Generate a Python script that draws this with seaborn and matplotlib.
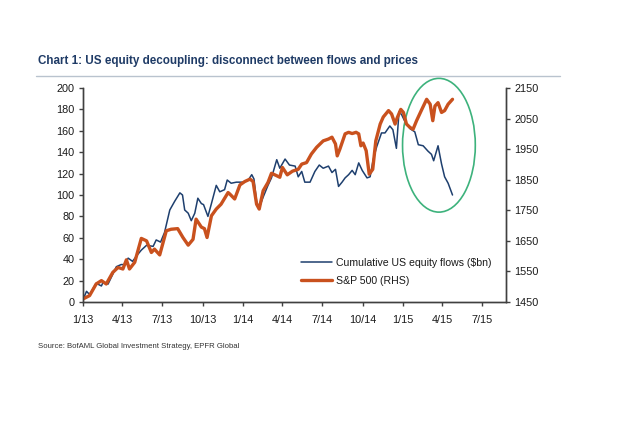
import matplotlib
matplotlib.use("Agg")
import matplotlib.pyplot as plt
import matplotlib.dates as mdates
from matplotlib.patches import Ellipse
from matplotlib.lines import Line2D
import pandas as pd
import seaborn as sns

# ---------------- data ----------------
flow_dates = ["2013-01-01", "2013-01-09", "2013-01-16", "2013-01-31", "2013-02-12", "2013-02-16",
              "2013-02-27", "2013-03-10", "2013-03-18", "2013-03-29", "2013-04-06", "2013-04-14",
              "2013-04-24", "2013-05-03", "2013-05-14", "2013-05-26", "2013-06-10", "2013-06-17",
              "2013-06-27", "2013-07-06", "2013-07-18", "2013-07-29", "2013-08-10", "2013-08-16",
              "2013-08-21", "2013-08-29", "2013-09-05", "2013-09-13", "2013-09-20", "2013-09-28",
              "2013-10-03", "2013-10-13", "2013-10-21", "2013-11-01", "2013-11-09", "2013-11-20",
              "2013-11-26", "2013-12-05", "2013-12-17", "2014-01-02", "2014-01-13", "2014-01-21",
              "2014-01-26", "2014-02-01", "2014-02-07", "2014-02-16", "2014-02-27", "2014-03-07",
              "2014-03-19", "2014-03-26", "2014-04-07", "2014-04-17", "2014-04-30", "2014-05-07",
              "2014-05-15", "2014-05-22", "2014-06-03", "2014-06-14", "2014-06-24", "2014-07-03",
              "2014-07-15", "2014-07-23", "2014-07-31", "2014-08-07", "2014-08-15", "2014-08-22",
              "2014-08-30", "2014-09-07", "2014-09-14", "2014-09-22", "2014-09-30", "2014-10-11",
              "2014-10-18", "2014-10-25", "2014-11-02", "2014-11-13", "2014-11-21", "2014-12-02",
              "2014-12-09", "2014-12-17", "2014-12-23", "2014-12-29", "2015-01-05", "2015-01-17",
              "2015-01-28", "2015-02-05", "2015-02-16", "2015-02-27", "2015-03-07", "2015-03-12",
              "2015-03-22", "2015-03-30", "2015-04-06", "2015-04-14", "2015-04-24"]
flow_vals = [2, 10, 7, 17.5, 15, 18.7,
             16.7, 26, 33, 35, 35, 41,
             38, 43, 48.5, 53, 52, 58,
             56, 65, 86, 94, 102, 100,
             86, 83, 76, 83, 97, 92,
             91, 80, 92, 109, 103, 105,
             114, 111, 112, 112, 114, 119,
             115, 94, 88, 98, 109, 116,
             133, 125, 133.6, 128, 127, 117,
             122, 112, 112, 122, 128, 125,
             127, 121, 124, 108, 112, 116,
             119, 123, 119, 130, 123, 116,
             117, 133, 145, 158, 158, 164.5,
             161, 143.6, 178, 175, 169, 162,
             159, 147, 146, 141, 138, 132,
             146, 129, 117, 111, 100]

spx_dates = ["2013-01-01", "2013-01-16", "2013-01-31", "2013-02-12", "2013-02-23", "2013-03-10",
             "2013-03-22", "2013-04-02", "2013-04-10", "2013-04-17", "2013-04-29", "2013-05-14",
             "2013-05-26", "2013-06-06", "2013-06-13", "2013-06-25", "2013-07-10", "2013-07-21",
             "2013-08-05", "2013-08-17", "2013-08-29", "2013-09-09", "2013-09-16", "2013-09-28",
             "2013-10-05", "2013-10-11", "2013-10-21", "2013-11-01", "2013-11-12", "2013-11-28",
             "2013-12-02", "2013-12-13", "2013-12-25", "2014-01-05", "2014-01-17", "2014-01-24",
             "2014-02-01", "2014-02-07", "2014-02-16", "2014-02-27", "2014-03-07", "2014-03-19",
             "2014-03-26", "2014-04-01", "2014-04-12", "2014-04-24", "2014-05-07", "2014-05-15",
             "2014-05-26", "2014-06-06", "2014-06-18", "2014-07-03", "2014-07-15", "2014-07-23",
             "2014-07-31", "2014-08-04", "2014-08-10", "2014-08-22", "2014-08-30", "2014-09-07",
             "2014-09-16", "2014-09-22", "2014-09-27", "2014-10-02", "2014-10-09", "2014-10-16",
             "2014-10-24", "2014-10-31", "2014-11-10", "2014-11-17", "2014-11-29", "2014-12-06",
             "2014-12-14", "2014-12-19", "2014-12-27", "2015-01-02", "2015-01-09", "2015-01-17",
             "2015-01-24", "2015-02-01", "2015-02-13", "2015-02-24", "2015-03-04", "2015-03-10",
             "2015-03-15", "2015-03-22", "2015-03-30", "2015-04-06", "2015-04-14", "2015-04-24"]
spx_vals = [1460, 1471, 1509, 1520, 1509, 1547,
            1563, 1558, 1588, 1558, 1580, 1658,
            1650, 1612, 1623, 1604, 1683, 1688,
            1690, 1661, 1636, 1655, 1721, 1695,
            1690, 1661, 1732, 1754, 1770, 1808,
            1803, 1787, 1833, 1844, 1852, 1844,
            1770, 1754, 1814, 1841, 1871, 1863,
            1858, 1890, 1866, 1878, 1884, 1901,
            1906, 1934, 1956, 1977, 1983, 1989,
            1967, 1928, 1950, 2000, 2005, 2001,
            2005, 2000, 1961, 1970, 1945, 1868,
            1884, 1977, 2032, 2055, 2076, 2065,
            2032, 2053, 2080, 2070, 2032, 2021,
            2015, 2043, 2080, 2113, 2097, 2043,
            2091, 2102, 2070, 2076, 2097, 2113]

x_tick_dates = ["2013-01-01", "2013-04-01", "2013-07-01", "2013-10-01", "2014-01-01", "2014-04-01",
                "2014-07-01", "2014-10-01", "2015-01-01", "2015-04-01", "2015-07-01"]
x_tick_labels = ["1/13", "4/13", "7/13", "10/13", "1/14", "4/14", "7/14", "10/14", "1/15", "4/15", "7/15"]
left_ticks = [0, 20, 40, 60, 80, 100, 120, 140, 160, 180, 200]
right_ticks = [1450, 1550, 1650, 1750, 1850, 1950, 2050, 2150]

title = "Chart 1: US equity decoupling: disconnect between flows and prices"
source = "Source: BofAML Global Investment Strategy, EPFR Global"
flow_label = "Cumulative US equity flows ($bn)"
spx_label = "S&P 500 (RHS)"

# ---------------- style ----------------
sns.set_theme(style="ticks")
FONT = ["Liberation Sans", "DejaVu Sans"]
plt.rcParams["font.family"] = FONT

BLUE = "#1E3F6E"
ORANGE = "#C9511E"
GREEN = "#3DB27C"
TEXT = "#1a1a1a"
AXIS = "#404040"

flow_df = pd.DataFrame({"date": pd.to_datetime(flow_dates), "value": flow_vals})
spx_df = pd.DataFrame({"date": pd.to_datetime(spx_dates), "value": spx_vals})

fig = plt.figure(figsize=(6.4, 4.36), dpi=100)
ax = fig.add_axes([0.1297, 0.3073, 0.6609, 0.4909])
ax2 = ax.twinx()

sns.lineplot(data=flow_df, x="date", y="value", ax=ax, color=BLUE, linewidth=1.1)
sns.lineplot(data=spx_df, x="date", y="value", ax=ax2, color=ORANGE, linewidth=2.4)

ax.set_xlim(pd.Timestamp("2013-01-01"), pd.Timestamp("2015-08-24"))
ax.set_ylim(0, 200)
ax2.set_ylim(1450, 2150)

ax.set_xticks(pd.to_datetime(x_tick_dates))
ax.set_xticklabels(x_tick_labels)
ax.set_yticks(left_ticks)
ax2.set_yticks(right_ticks)

for a in (ax, ax2):
    a.set_xlabel("")
    a.set_ylabel("")
    a.spines["top"].set_visible(False)
    for s in a.spines.values():
        s.set_linewidth(1.0)
        s.set_color(AXIS)
    a.tick_params(length=3, width=1, labelsize=7.8, labelcolor=TEXT, color=AXIS, pad=3)
ax.tick_params(axis="x", pad=6)

# ellipse highlight
ell = Ellipse((mdates.date2num(pd.Timestamp("2015-03-24")), 146.5),
              width=166, height=125, fill=False, edgecolor=GREEN, linewidth=1.2,
              clip_on=False, zorder=5)
ax.add_patch(ell)

# legend
handles = [Line2D([], [], color=BLUE, linewidth=1.1),
           Line2D([], [], color=ORANGE, linewidth=2.4)]
leg = ax.legend(handles, [flow_label, spx_label], loc="lower left",
                bbox_to_anchor=(0.505, 0.055), frameon=False, fontsize=7.6,
                handlelength=3.0, handletextpad=0.3, labelspacing=0.75, borderaxespad=0)
for t in leg.get_texts():
    t.set_color(TEXT)

# title & underline & source
fig.text(38 / 640, 1 - 61 / 436, title, fontsize=8.4, fontweight="bold", color="#1F3B66",
         va="center", ha="left")
fig.add_artist(Line2D([36 / 640, 560 / 640], [1 - 76 / 436, 1 - 76 / 436],
                      color="#B9C3CE", linewidth=1.0))
fig.text(38 / 640, 1 - 347 / 436, source, fontsize=5.6, color="#333333",
         va="center", ha="left")

fig.savefig("out.png", dpi=100, facecolor="white")
